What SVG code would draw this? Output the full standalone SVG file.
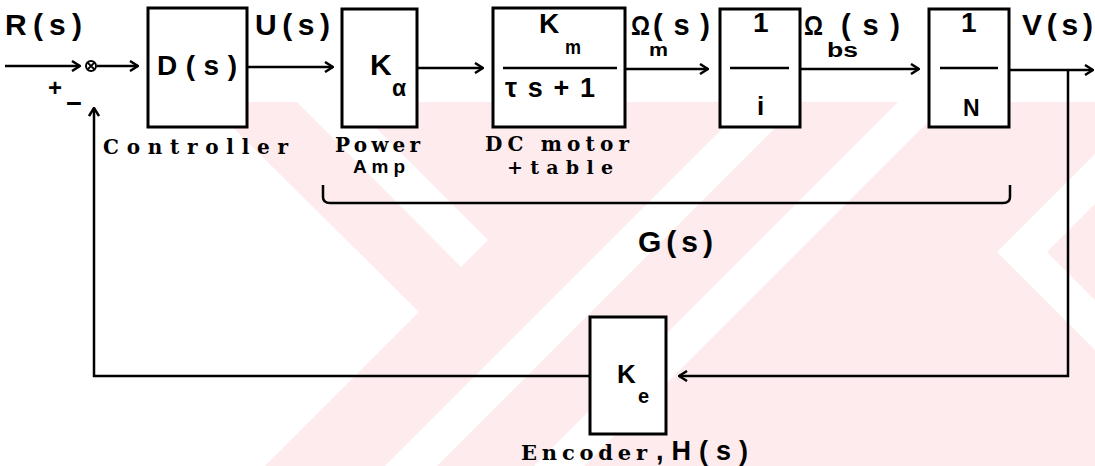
<svg xmlns="http://www.w3.org/2000/svg" width="1095" height="466" viewBox="0 0 1095 466">
<style>
.box{fill:#fff;stroke:#000;stroke-width:3}
.ln{fill:none;stroke:#000;stroke-width:2.5}
.fr{stroke:#000;stroke-width:2.5}
.t{font-family:"Liberation Sans",Arial,sans-serif;font-weight:bold;fill:#000}
.m{font-family:"DejaVu Serif","Liberation Serif",serif;font-weight:bold;fill:#000}
.wm{fill:#fdebee}
.wh{fill:#fff}
</style>
<defs>
<marker id="ah" viewBox="0 0 10 12" refX="9" refY="6" markerWidth="10" markerHeight="12" markerUnits="userSpaceOnUse" orient="auto">
<path d="M1,1 L9,6 L1,11" fill="none" stroke="#000" stroke-width="2.5"/>
</marker>
</defs>
<rect width="1095" height="466" fill="#fff"/>
<g id="watermark">
<polygon class="wm" points="207,102 1095,102 1095,466 265,466 419,312"/>
<polygon class="wh" points="297,102 350,102 488,240 461,267"/>
<polygon class="wh" points="385,466 437,466 801,102 749,102"/>
<polygon class="wh" points="534,466 584,466 948,102 898,102"/>
<polygon class="wh" points="1095,154 997,252 1095,350 1095,300 1047,252 1095,204"/>
</g>
<g id="connectors">
<line class="ln" x1="5" y1="66" x2="80" y2="66" marker-end="url(#ah)"/>
<line class="ln" x1="97" y1="66" x2="138" y2="66" marker-end="url(#ah)"/>
<line class="ln" x1="247" y1="67" x2="333" y2="67" marker-end="url(#ah)"/>
<line class="ln" x1="417" y1="68" x2="483" y2="68" marker-end="url(#ah)"/>
<line class="ln" x1="625" y1="69" x2="708" y2="69" marker-end="url(#ah)"/>
<line class="ln" x1="800" y1="69" x2="919" y2="69" marker-end="url(#ah)"/>
<line class="ln" x1="1009" y1="70" x2="1093" y2="70" marker-end="url(#ah)"/>
<polyline class="ln" points="1068,70 1068,376 679,376" marker-end="url(#ah)"/>
<polyline class="ln" points="590,376 94,376 94,108" marker-end="url(#ah)"/>
<path class="ln" d="M323,185 L323,197 Q323,203 330,203 L1003,203 Q1010,203 1010,197 L1010,185" stroke-width="3"/>
</g>
<g id="sum">
<circle cx="91" cy="66" r="5" fill="#fff" stroke="#000" stroke-width="2"/>
<path d="M87.5,62.5 L94.5,69.5 M94.5,62.5 L87.5,69.5" stroke="#000" stroke-width="1.8"/>
<text class="t" x="48" y="96" font-size="24">+</text>
<text class="t" x="66" y="113" font-size="28" textLength="16" lengthAdjust="spacingAndGlyphs">−</text>
</g>
<g id="labels">
<text class="t" x="5" y="35" font-size="30" textLength="77" lengthAdjust="spacing">R(s)</text>
<text class="t" x="255" y="35" font-size="30" textLength="75" lengthAdjust="spacing">U(s)</text>
<text class="t" x="631" y="35" font-size="28" textLength="19" lengthAdjust="spacingAndGlyphs">Ω</text>
<text class="t" x="653" y="35" font-size="29" textLength="57" lengthAdjust="spacing">(s)</text>
<text class="t" x="649" y="56" font-size="19" textLength="19" lengthAdjust="spacingAndGlyphs">m</text>
<text class="t" x="804" y="35" font-size="28" textLength="19" lengthAdjust="spacingAndGlyphs">Ω</text>
<text class="t" x="841" y="35" font-size="29" textLength="59" lengthAdjust="spacing">(s)</text>
<text class="t" x="827" y="57" font-size="20" textLength="31" lengthAdjust="spacingAndGlyphs">bs</text>
<text class="t" x="1022" y="35" font-size="30" textLength="71" lengthAdjust="spacing">V(s)</text>
<text class="t" x="638" y="252" font-size="30" textLength="75" lengthAdjust="spacing">G(s)</text>
</g>
<g id="controller">
<rect class="box" x="148" y="8" width="99" height="119"/>
<text class="t" x="157" y="75" font-size="28" textLength="80" lengthAdjust="spacing">D(s)</text>
<text class="m" x="103" y="154" font-size="20" textLength="185" lengthAdjust="spacing">Controller</text>
</g>
<g id="power-amp">
<rect class="box" x="342" y="9" width="75" height="118"/>
<text class="t" x="370" y="75" font-size="30">K</text>
<text class="t" x="392" y="96" font-size="23">α</text>
<text class="m" x="335" y="152" font-size="20" textLength="85" lengthAdjust="spacing">Power</text>
<text class="t" x="353" y="173" font-size="19" textLength="52" lengthAdjust="spacing">Amp</text>
</g>
<g id="dc-motor">
<rect class="box" x="493" y="8" width="132" height="119"/>
<text class="t" x="539" y="33" font-size="28">K</text>
<text class="t" x="565" y="54" font-size="21" textLength="16" lengthAdjust="spacingAndGlyphs">m</text>
<line class="fr" x1="503" y1="68" x2="617" y2="68"/>
<text class="t" x="505" y="97" font-size="27" textLength="90" lengthAdjust="spacing">τs+1</text>
<text class="m" x="485" y="151" font-size="20" textLength="144" lengthAdjust="spacing">DC motor</text>
<text class="m" x="507" y="174" font-size="19" font-weight="normal" textLength="106" lengthAdjust="spacing">+table</text>
</g>
<g id="gear-i">
<rect class="box" x="720" y="9" width="80" height="118"/>
<text class="t" x="753" y="32" font-size="28">1</text>
<line class="fr" x1="730" y1="68" x2="789" y2="68"/>
<text class="t" x="757" y="115" font-size="26">i</text>
</g>
<g id="gear-n">
<rect class="box" x="929" y="9" width="80" height="118"/>
<text class="t" x="961" y="32" font-size="28">1</text>
<line class="fr" x1="940" y1="68" x2="998" y2="68"/>
<text class="t" x="963" y="116" font-size="23">N</text>
</g>
<g id="encoder">
<rect class="box" x="590" y="317" width="76" height="117"/>
<text class="t" x="617" y="383" font-size="26">K</text>
<text class="t" x="638" y="403" font-size="20">e</text>
<text class="m" x="521" y="460" font-size="21" textLength="126" lengthAdjust="spacing">Encoder</text>
<text class="t" x="656" y="460" font-size="27" textLength="92" lengthAdjust="spacing">,H(s)</text>
</g>
</svg>
